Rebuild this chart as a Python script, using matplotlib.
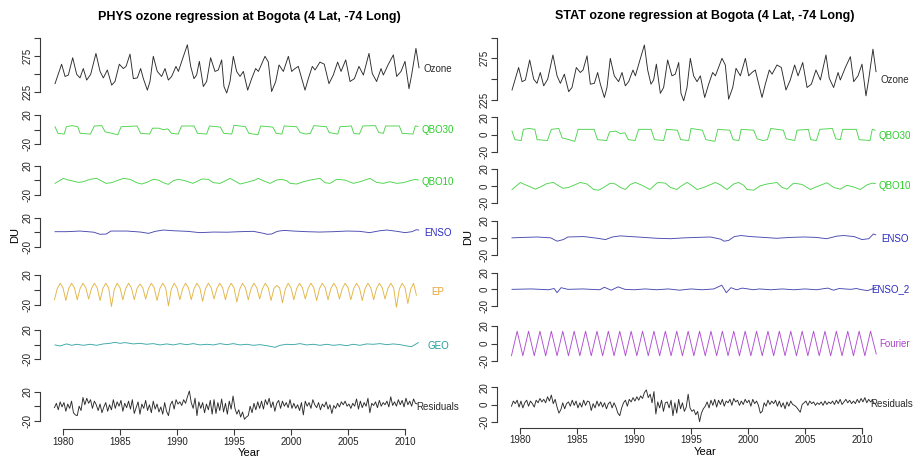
import numpy as np
import matplotlib
matplotlib.use('Agg')
import matplotlib.pyplot as plt

plt.rcParams['font.family'] = ['Liberation Sans', 'DejaVu Sans']

# ---- data (DU) ----
ozone_yr = [1979.30, 1979.88, 1980.18, 1980.47, 1980.85, 1981.20, 1981.49, 1981.78, 1982.08, 1982.43,
            1982.89, 1983.25, 1983.54, 1983.89, 1984.27, 1984.56, 1984.94, 1985.29, 1985.53, 1985.88,
            1986.17, 1986.52, 1986.81, 1987.05, 1987.40, 1987.63, 1987.92, 1988.27, 1988.65, 1988.95,
            1989.24, 1989.53, 1989.91, 1990.12, 1990.50, 1990.91, 1991.20, 1991.49, 1991.72, 1991.96,
            1992.31, 1992.60, 1992.95, 1993.33, 1993.62, 1993.92, 1994.12, 1994.36, 1994.65, 1994.94,
            1995.23, 1995.53, 1995.82, 1996.20, 1996.55, 1996.90, 1997.14, 1997.72, 1998.01, 1998.30,
            1998.66, 1998.95, 1999.33, 1999.77, 2000.06, 2000.35, 2000.64, 2001.23, 2001.52, 2001.87,
            2002.11, 2002.54, 2002.92, 2003.33, 2003.71, 2004.09, 2004.39, 2004.80, 2005.18, 2005.56,
            2005.96, 2006.35, 2006.84, 2007.13, 2007.51, 2007.90, 2008.10, 2008.54, 2008.98, 2009.27,
            2009.65, 2010.00, 2010.35, 2010.58, 2010.96, 2011.23]
ozone_du = [237, 264, 247, 249, 273, 250, 245, 258, 242, 250,
            279, 254, 245, 256, 235, 240, 264, 258, 261, 278,
            244, 245, 258, 244, 228, 240, 275, 254, 247, 258,
            242, 247, 261, 254, 272, 291, 261, 244, 249, 268,
            233, 240, 273, 254, 256, 270, 233, 224, 240, 275,
            254, 247, 254, 228, 244, 258, 254, 275, 267, 226,
            240, 263, 254, 275, 254, 258, 261, 228, 244, 261,
            256, 267, 264, 237, 249, 267, 254, 270, 240, 244,
            261, 249, 279, 251, 240, 258, 249, 264, 277, 247,
            254, 268, 230, 249, 286, 259]

qbo30_yr = [1979.30, 1979.55, 1980.10, 1980.30, 1980.80, 1981.30, 1981.50, 1982.40, 1982.75, 1983.40,
            1983.70, 1984.30, 1984.80, 1985.10, 1986.50, 1986.80, 1987.60, 1987.85, 1988.40, 1988.80,
            1989.20, 1989.50, 1990.10, 1990.40, 1991.50, 1991.80, 1992.60, 1992.85, 1993.80, 1994.10,
            1994.80, 1995.00, 1996.00, 1996.30, 1997.10, 1997.35, 1998.40, 1998.70, 1999.20, 1999.40,
            2000.50, 2000.80, 2001.30, 2001.70, 2002.00, 2003.10, 2003.35, 2004.10, 2004.30, 2005.30,
            2005.50, 2006.00, 2006.30, 2007.40, 2007.70, 2008.10, 2008.30, 2009.50, 2009.75, 2010.70,
            2010.90, 2011.15]
qbo30_phys = [4, -5, -6, 4, 5.5, 4, -5, -6, 5, 5.5,
              -3, -5, -7, 4, 5, -5, -6, 2, 2, 0,
              1, -5, -6, 5, 5, -5, -6, 5, 3.5, -5,
              -6, 6, 4, -5, -7, 5, 3.5, -5, -6, 5,
              4, -4, -6, -5, 5.5, 4, -4, -6, 4, 5,
              -5, -6, 5, 5.5, -4, -5, 5, 5, -5, -6,
              5, 4.5]
qbo30_stat = [4, -6, -7, 6, 7, 6, -6, -7, 6, 7,
              -4, -6, -8, 6, 6, -6, -7, 3, 4, 1,
              2, -6, -7, 6, 6, -6, -7, 6, 5, -6,
              -7, 7, 5, -6, -8, 6, 5, -6, -7, 6,
              5, -5, -7, -6, 7, 5, -5, -7, 5, 6,
              -6, -7, 6, 7, -5, -6, 6, 6, -6, -7,
              6, 5]

qbo10_yr = [1979.30, 1980.03, 1980.47, 1980.76, 1981.35, 1981.78, 1982.37, 1982.95, 1983.25, 1983.77,
            1984.27, 1984.71, 1985.29, 1985.88, 1986.46, 1986.90, 1987.34, 1987.92, 1988.36, 1988.80,
            1989.24, 1989.68, 1990.12, 1990.70, 1991.40, 1992.00, 1992.16, 1992.75, 1993.19, 1993.77,
            1994.07, 1994.65, 1994.94, 1995.53, 1996.11, 1996.84, 1997.13, 1997.57, 1998.16, 1998.74,
            1999.18, 1999.62, 1999.91, 2000.50, 2001.08, 2001.67, 2002.54, 2002.98, 2003.42, 2004.00,
            2004.74, 2005.47, 2006.05, 2006.93, 2007.51, 2008.10, 2008.68, 2009.27, 2009.85, 2010.44,
            2010.88, 2011.17]
qbo10_phys = [-4.1, 2.7, 0.4, -0.5, -2.8, -1.9, 1.4, 2.7, 0.4, -4.1,
              -3.2, -0.5, 2.7, 1.4, -3.2, -5.0, -2.8, 1.4, 0.4, -3.2,
              -5.5, -0.5, 1.4, -0.5, -4.1, 0.4, 1.8, 1.4, -3.2, -4.1,
              -1.9, 2.7, 0.4, -5.0, -2.8, 0.4, 2.7, -0.5, -4.1, 0.4,
              1.4, -0.5, -4.1, -5.0, -1.9, 0.4, 2.7, -3.2, -4.1, 1.4,
              0.4, -4.1, -1.9, 2.7, -2.8, -4.1, -1.9, -4.1, -3.2, -0.5,
              1.4, 0.4]
qbo10_stat = [-3.9, 4.3, 1.5, 0.0, -3.5, -1.0, 3.1, 4.3, 1.5, -2.5,
              -1.5, 1.0, 4.3, 2.5, -3.9, -4.7, -1.5, 3.5, 2.5, -1.5,
              -3.9, 2.0, 4.3, 1.0, -3.9, 3.5, 4.3, 3.5, -1.5, -3.9,
              -0.5, 4.3, 2.0, -3.9, -1.5, 2.5, 4.3, 1.5, -3.9, 2.5,
              4.3, 1.0, -3.9, -4.7, 0.5, 2.5, 4.3, -1.5, -3.5, 3.5,
              2.0, -3.9, -0.5, 4.0, -1.5, -3.5, 1.0, -1.0, -3.9, 1.5,
              3.5, 3.0]

enso_yr = [1979.30, 1980.30, 1981.50, 1982.70, 1983.25, 1983.80, 1984.20, 1985.60, 1986.80, 1987.50,
           1988.10, 1988.80, 1989.70, 1990.90, 1992.00, 1993.20, 1994.40, 1995.50, 1996.70, 1997.60,
           1997.90, 1998.30, 1998.80, 1999.40, 2000.20, 2001.40, 2002.50, 2003.70, 2004.90, 2006.00,
           2006.90, 2007.80, 2008.40, 2009.30, 2010.00, 2010.60, 2011.00, 2011.20]
enso_phys = [0.7, 0.7, 1.6, 0.0, -2.9, -2.5, 1.6, 1.6, 0.2, -1.6,
             1.2, 3.0, 2.0, 1.2, -0.6, 0.2, 0.0, 0.7, 1.2, -1.6,
             -2.9, -2.5, 1.2, 2.5, 1.6, 0.7, 0.2, 0.7, 1.6, 1.2,
             -0.6, 2.0, 3.0, 1.2, -0.6, 0.7, 3.4, 3.0]
enso_stat = [0.0, 0.5, 1.0, 0.0, -3.9, -2.0, 1.0, 1.5, -0.5, -2.0,
             1.0, 2.3, 1.5, 0.5, -0.5, -1.0, 0.0, 0.5, 1.0, -1.5,
             -3.9, -3.0, 1.5, 2.7, 1.5, 0.5, -0.5, 0.5, 1.0, 0.5,
             -1.0, 2.0, 2.7, 1.5, -2.0, -1.0, 4.5, 3.5]

enso2_yr = [1979.30, 1981.00, 1982.50, 1983.00, 1983.25, 1983.60, 1984.20, 1985.50, 1987.00, 1987.40,
            1988.00, 1988.60, 1989.20, 1990.00, 1991.00, 1992.00, 1993.00, 1994.00, 1995.00, 1996.00,
            1997.00, 1997.70, 1998.10, 1998.50, 1999.00, 1999.50, 2000.50, 2001.00, 2002.00, 2003.00,
            2004.00, 2005.00, 2006.00, 2007.00, 2007.50, 2008.00, 2009.00, 2009.50, 2010.00, 2010.50,
            2011.00, 2011.20]
enso2_stat = [0.0, 0.5, -0.5, 1.0, -4.0, 2.0, 0.0, 0.5, -0.5, 2.5,
              -1.0, 3.0, 0.0, -0.5, 0.5, -0.5, 0.5, -1.0, 0.5, -0.5,
              0.5, 5.0, -4.0, 2.0, -0.5, 1.5, -0.5, 0.5, -0.5, 0.5,
              -0.5, 0.5, -0.5, 1.5, -1.0, 1.0, 0.0, 1.0, -0.5, -1.5,
              1.0, 2.5]

# EP: quarterly values from 1979.25
ep_phys = [-13, 2, 9, 3, -14, 2, 9, 3, -13, 2, 9, 3, -12, 2, 9, 3,
           -14, 2, 9, 3, -22, 1, 9, 3, -13, 2, 9, 3, -13, 2, 8, 3,
           -12, 2, 9, 3, -14, 2, 9, 3, -21, 1, 9, 3, -13, 2, 9, 3,
           -13, 2, 9, 3, -15, 2, 9, 3, -12, 2, 9, 3, -13, 2, 9, 3,
           -16, 1, 9, 3, -13, 2, 9, 3, -12, 2, 9, 3, -14, 2, 6, 3,
           -17, 1, 9, 3, -13, 2, 9, 3, -12, 2, 9, 3, -14, 2, 9, 3,
           -13, 2, 9, 3, -12, 2, 9, 3, -13, 2, 9, 3, -14, 2, 9, 3,
           -13, 2, 9, 3, -12, 2, 9, 3, -23, 1, 9, 3, -18, 1, 9, -7]

geo_yr = [1979.30, 1979.74, 1980.32, 1980.76, 1981.20, 1981.78, 1982.37, 1982.95, 1983.54, 1984.12,
          1984.56, 1985.00, 1985.44, 1986.17, 1986.75, 1987.34, 1987.92, 1988.51, 1989.09, 1989.68,
          1990.26, 1990.85, 1991.43, 1992.02, 1992.60, 1993.19, 1993.77, 1994.36, 1994.94, 1995.53,
          1996.11, 1996.70, 1997.28, 1997.87, 1998.30, 1998.60, 1999.04, 1999.62, 2000.20, 2000.79,
          2001.37, 2001.96, 2002.54, 2003.13, 2003.71, 2004.30, 2004.88, 2005.47, 2006.05, 2006.64,
          2007.22, 2007.81, 2008.40, 2008.98, 2009.56, 2010.15, 2010.58, 2011.17]
geo_phys = [-0.4, -1.8, 1.0, -0.9, 0.5, -0.9, 0.5, -0.9, 1.0, 1.8,
            3.2, 1.8, 2.8, 1.0, 1.8, 0.5, 1.4, -0.4, 1.0, -0.4,
            1.4, 0.0, 1.4, -0.4, 0.5, -0.4, 1.4, 0.0, 1.4, -0.4,
            0.5, -0.9, 0.0, -1.4, -2.7, -3.6, -0.9, 0.5, 0.0, 1.4,
            -0.4, 0.5, -0.9, 0.5, -0.9, 0.0, -1.4, 0.5, -0.9, 1.0,
            0.5, 1.4, 0.0, 1.0, 0.0, -1.8, -2.7, 2.8]

# Fourier: half-yearly turning points from 1979.25
fourier_stat = [-14, 14, -14, 14, -14, 14, -14, 14, -14, 14, -14, 14, -14, 14, -14, 14,
                -14, 14, -14, 14, -14, 14, -14, 14, -14, 14, -14, 14, -14, 14, -14, 14,
                -14, 14, -14, 14, -14, 14, -14, 14, -14, 14, -14, 14, -14, 14, -14, 14,
                -14, 14, -14, 14, -14, 14, -14, 14, -14, 14, -14, 14, -14, 14, -14, 14, -12]

# residuals: six values per year from 1979.25
resid_phys = [-2, 4, -5, 6, -1, 5,     -7, 3, -3, 7, -9, -12,    -13, 0, -6, 12, 2, 11,
              4, 9, -3, 7, 2, -6,      3, -9, -1, 5, -7, 2,      -5, 9, -3, 6, 0, 8,
              -7, 4, -2, 7, -4, 9,     -10, -2, 6, -11, 3, -3,   8, -6, 2, -9, 7, -4,
              3, -8, -1, -11, 5, -7,   -13, 2, 7, -4, 9, 3,      6, 1, 9, 4, 13, 21,
              5, -3, 11, -13, 6, -3,   5, -9, 3, -5, 8, -11,     9, -10, 5, -6, 10, -8,
              4, -11, 7, -4, 14, -3,   -11, -5, -15, -8, -18, -15, -13, 0, -9, 4, -5, 6,
              -3, 7, -4, 9, 2, 11,     -2, 6, -7, 4, 8, -3,      7, 0, 5, -2, 9, -3,
              4, -3, 2, -6, 5, -12,    7, 0, 5, -3, 9, 2,        -2, 5, -5, 3, -1, 6,
              -4, 2, -10, 1, -3, 4,    -1, 6, 2, 7, 0, 3,        -3, 4, 0, 10, -4, 7,
              -2, 5, 0, 11, -9, 4,     1, 6, -2, 8, 0, 5,        2, 7, -1, 13, 1, 6,
              0, 9, 2, 8, -1, 11,      2, 7, 0, 10, 4, 3]
resid_stat = [-2, 4, 1, 5, -3, 4,      -4, 2, 5, -2, 4, 1,       -3, 5, 2, 7, 3, 6,
              2, 9, 4, 11, 1, 6,       -3, -10, -6, 2, -5, 1,    3, -2, 5, -1, 4, -4,
              2, -3, 5, -1, 4, 3,      -7, 1, -4, 4, -2, 3,      -3, 2, -5, 1, 3, -4,
              2, -3, -10, -13, -4, 2,  5, -2, 6, 3, 8, 4,        9, 5, 10, 7, 14, 17,
              8, 12, 2, 15, -11, 3,    -4, 5, -8, 2, 3, -4,      5, -13, 2, -10, 6, -5,
              2, -8, -3, 12, -4, -8,   -6, -12, -8, -20, -10, -5, -2, 3, -4, 5, -1, 6,
              -3, 5, 0, 6, -2, 4,      2, 6, -1, 7, 3, 5,        -1, 4, 0, 6, 2, 5,
              -2, 6, 1, 4, -1, -10,    -8, 2, -2, 5, 0, 4,       1, 5, -2, 4, -3, 2,
              -5, 3, -2, 4, 0, -1,     -3, -6, -9, 0, 2, 4,      -1, 4, 1, 3, -1, 2,
              0, 3, -1, 4, 0, 3,       1, 4, 0, 5, 1, 6,         0, 3, 6, 2, 5, 1,
              4, 1, 6, 2, 7, 3,        8, 2, 6, 3, 5, 1]

ep_t = 1979.25 + 0.25 * np.arange(len(ep_phys))
fourier_t = 1979.25 + 0.5 * np.arange(len(fourier_stat))
resid_t = 1979.25 + np.arange(len(resid_phys)) / 6.0

# ---- colours ----
BLACK = '#2a2a2a'
GREEN_L, GREEN_T = '#4cd44c', '#2ccc2c'
BLUE_L, BLUE_T = '#4848b0', '#2a2ac0'
GOLD_L, GOLD_T = '#e2b445', '#eba337'
TEAL_L, TEAL_T = '#3aa6a6', '#1f9b9b'
PURP_L, PURP_T = '#b04ed0', '#a946c8'
AXC = '#3a3a3a'
LW = 0.65

# ---- layout (pixels) ----
W, H = 913, 457
PX_YR = 11.4
fig = plt.figure(figsize=(W / 100, H / 100), dpi=100)

SIDES = {'L': (40, 425, 63), 'R': (497, 880, 520)}
T_OZ = ([225, 250, 275, 300], ['225', '', '275', ''])
T_L = ([-20, 0, 20], ['-20', '', '20'])
T_R = ([-20, 0, 20], ['-20', '0', '20'])


def panel(side, ytop, ybot, lo, hi, ticks):
    x0, x1, x80 = SIDES[side]
    ax = fig.add_axes([x0 / W, 1 - ybot / H, (x1 - x0) / W, (ybot - ytop) / H])
    ax.set_xlim(1980 + (x0 - x80) / PX_YR, 1980 + (x1 - x80) / PX_YR)
    ax.set_ylim(lo, hi)
    ax.patch.set_visible(False)
    for s in ('top', 'right', 'bottom'):
        ax.spines[s].set_visible(False)
    ax.spines['left'].set_color(AXC)
    ax.spines['left'].set_linewidth(0.8)
    ax.set_yticks(ticks[0])
    ax.set_yticklabels(ticks[1], rotation=90, va='center')
    ax.tick_params(axis='y', length=4, width=0.8, color=AXC, labelsize=7, pad=1.5,
                   labelcolor='#222222')
    ax.set_xticks([])
    return ax


def series(ax, x, y, lc, name, tc, ly, lx=2012.9):
    ax.plot(x, y, color=lc, lw=LW, clip_on=False)
    ax.text(lx, ly, name, color=tc, fontsize=7, ha='center', va='center', clip_on=False)


def xaxis(ax, outward):
    ax.spines['bottom'].set_visible(True)
    ax.spines['bottom'].set_position(('outward', outward))
    ax.spines['bottom'].set_bounds(1980, 2010)
    ax.spines['bottom'].set_color(AXC)
    ax.spines['bottom'].set_linewidth(0.8)
    ax.set_xticks(range(1980, 2011, 5))
    ax.tick_params(axis='x', length=4, width=0.8, color=AXC, labelsize=7, pad=1.5,
                   labelcolor='#222222')


# PHYS (left)
a = panel('L', 38.3, 92.3, 225, 300, T_OZ)
series(a, ozone_yr, ozone_du, BLACK, 'Ozone', BLACK, 257)
a = panel('L', 115, 144.3, -20, 20, T_L)
series(a, qbo30_yr, qbo30_phys, GREEN_L, 'QBO30', GREEN_T, -0.5)
a = panel('L', 165.7, 195, -20, 20, T_L)
series(a, qbo10_yr, qbo10_phys, GREEN_L, 'QBO10', GREEN_T, -2.3)
a = panel('L', 217.7, 246.7, -20, 20, T_L)
series(a, enso_yr, enso_phys, BLUE_L, 'ENSO', BLUE_T, -0.7)
a = panel('L', 275, 305, -20, 20, T_L)
series(a, ep_t, ep_phys, GOLD_L, 'EP', GOLD_T, -2.3)
a = panel('L', 330, 359.3, -20, 20, T_L)
series(a, geo_yr, geo_phys, TEAL_L, 'GEO', TEAL_T, -1.4)
a = panel('L', 391.7, 420.7, -20, 20, T_L)
series(a, resid_t, resid_phys, BLACK, 'Residuals', BLACK, -1.5)
xaxis(a, 6.2)

# STAT (right)
a = panel('R', 37.5, 100, 225, 300, T_OZ)
series(a, ozone_yr, ozone_du, BLACK, 'Ozone', BLACK, 249)
a = panel('R', 117.3, 151.7, -20, 20, T_R)
series(a, qbo30_yr, qbo30_stat, GREEN_L, 'QBO30', GREEN_T, -1.2)
a = panel('R', 169, 203.3, -20, 20, T_R)
series(a, qbo10_yr, qbo10_stat, GREEN_L, 'QBO10', GREEN_T, 0)
a = panel('R', 220.7, 255, -20, 20, T_R)
series(a, enso_yr, enso_stat, BLUE_L, 'ENSO', BLUE_T, -1.5)
a = panel('R', 272.7, 306, -20, 20, T_R)
series(a, enso2_yr, enso2_stat, BLUE_L, 'ENSO_2', BLUE_T, 0.4, lx=2012.5)
a = panel('R', 326, 361, -20, 20, T_R)
series(a, fourier_t, fourier_stat, PURP_L, 'Fourier', PURP_T, -1)
a = panel('R', 387.3, 421.7, -20, 20, T_R)
series(a, resid_t, resid_stat, BLACK, 'Residuals', BLACK, 0.3, lx=2012.6)
xaxis(a, 4.3)

# titles and axis labels
fig.text(249 / W, 1 - 17 / H, 'PHYS ozone regression at Bogota (4 Lat, -74 Long)',
         ha='center', va='center', fontsize=9, fontweight='bold')
fig.text(705 / W, 1 - 16 / H, 'STAT ozone regression at Bogota (4 Lat, -74 Long)',
         ha='center', va='center', fontsize=9, fontweight='bold')
fig.text(15 / W, 1 - 235 / H, 'DU', rotation=90, ha='center', va='center', fontsize=8)
fig.text(468 / W, 1 - 237 / H, 'DU', rotation=90, ha='center', va='center', fontsize=8)
fig.text(249 / W, 1 - 453 / H, 'Year', ha='center', va='center', fontsize=8)
fig.text(705 / W, 1 - 452 / H, 'Year', ha='center', va='center', fontsize=8)

fig.savefig('out.png', dpi=100, facecolor='white')
